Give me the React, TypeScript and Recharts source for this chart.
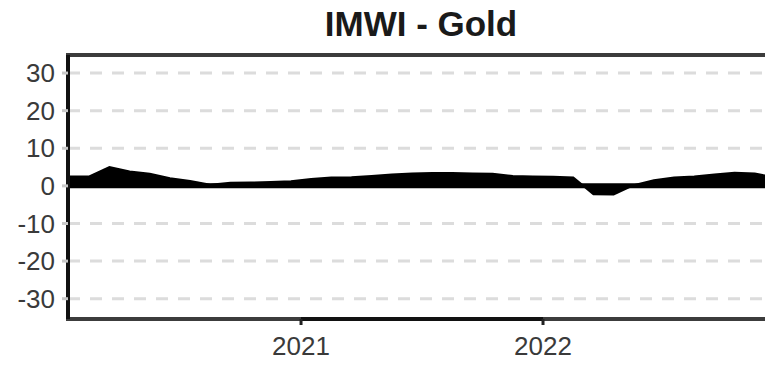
import {
  Area,
  ComposedChart,
  ReferenceArea,
  ReferenceLine,
  XAxis,
  YAxis,
  CartesianGrid,
} from 'recharts'

// monthly index readings, Jan 2020 .. Dec 2022
const months = [
  '2020-01', '2020-02', '2020-03', '2020-04', '2020-05', '2020-06',
  '2020-07', '2020-08', '2020-09', '2020-10', '2020-11', '2020-12',
  '2021-01', '2021-02', '2021-03', '2021-04', '2021-05', '2021-06',
  '2021-07', '2021-08', '2021-09', '2021-10', '2021-11', '2021-12',
  '2022-01', '2022-02', '2022-03', '2022-04', '2022-05', '2022-06',
  '2022-07', '2022-08', '2022-09', '2022-10', '2022-11', '2022-12',
]

const imwiValues = [
  2.5, 2.5, 5.0, 3.8, 3.2, 2.0, 1.3, 0.3, 0.8, 0.9, 1.0, 1.2,
  1.8, 2.2, 2.3, 2.6, 3.0, 3.3, 3.4, 3.4, 3.3, 3.2, 2.6, 2.5,
  2.4, 2.2, -2.2, -2.3, 0.2, 1.5, 2.2, 2.5, 3.0, 3.5, 3.3, 2.2,
]

const yTicks = [-30, -20, -10, 0, 10, 20, 30]
const xTicks = [2021, 2022]

const X_MIN = 2020.037
const X_MAX = 2023.0
const Y_MIN = -35.4
const Y_MAX = 34.8

// month string -> decimal year at mid-month
const toYear = (m: string) => {
  const [y, mo] = m.split('-').map(Number)
  return y + (mo - 0.5) / 12
}

const data = months.map((m, i) => ({t: toYear(m), value: imwiValues[i]}))

const FONT = '"Liberation Sans", Arial, sans-serif'

export default function App() {
  return (
    <div style={{margin: -8, width: 773, height: 366, overflow: 'hidden', position: 'relative', background: '#fff'}}>
      <div
        style={{
          position: 'absolute',
          left: 421,
          top: 4,
          transform: 'translateX(-50%)',
          fontFamily: FONT,
          fontWeight: 'bold',
          fontSize: 35,
          color: '#1a1a1a',
          whiteSpace: 'nowrap',
        }}
      >
        IMWI - Gold
      </div>
      <ComposedChart
        width={800}
        height={366}
        data={data}
        margin={{top: 55, right: 15, bottom: 0, left: 0}}
      >
        <CartesianGrid
          vertical={false}
          horizontalValues={yTicks}
          stroke="#dcdcdc"
          strokeWidth={3}
          strokeDasharray="12 10"
        />
        <XAxis
          dataKey="t"
          type="number"
          domain={[X_MIN, X_MAX]}
          ticks={xTicks}
          allowDataOverflow
          axisLine={false}
          tickSize={6}
          tickMargin={12}
          height={47}
          tickLine={{stroke: '#222', strokeWidth: 3}}
          tick={{fill: '#3a3a3a', fontSize: 26, fontFamily: FONT}}
          tickFormatter={(v: number) => String(v)}
        />
        <YAxis
          type="number"
          domain={[Y_MIN, Y_MAX]}
          ticks={yTicks}
          allowDataOverflow
          width={68}
          axisLine={false}
          tickSize={6}
          tickMargin={7}
          tickLine={{stroke: '#c8c8c8', strokeWidth: 3}}
          tick={{fill: '#3a3a3a', fontSize: 26, fontFamily: FONT}}
        />
        <Area
          type="linear"
          dataKey="value"
          baseValue={0}
          stroke="#000"
          strokeWidth={2}
          fill="#000"
          fillOpacity={1}
          isAnimationActive={false}
        />
        <ReferenceLine y={0} stroke="#000" strokeWidth={5} />
        <ReferenceArea
          x1={X_MIN}
          x2={X_MAX}
          y1={Y_MIN}
          y2={Y_MAX}
          fill="none"
          stroke="#3c3c3c"
          strokeWidth={4}
          ifOverflow="visible"
        />
        <ReferenceLine
          segment={[{x: 2021, y: Y_MIN}, {x: 2022, y: Y_MIN}]}
          stroke="#111"
          strokeWidth={4}
        />
        <ReferenceLine x={X_MIN} stroke="#111" strokeWidth={4} />
      </ComposedChart>
    </div>
  )
}
